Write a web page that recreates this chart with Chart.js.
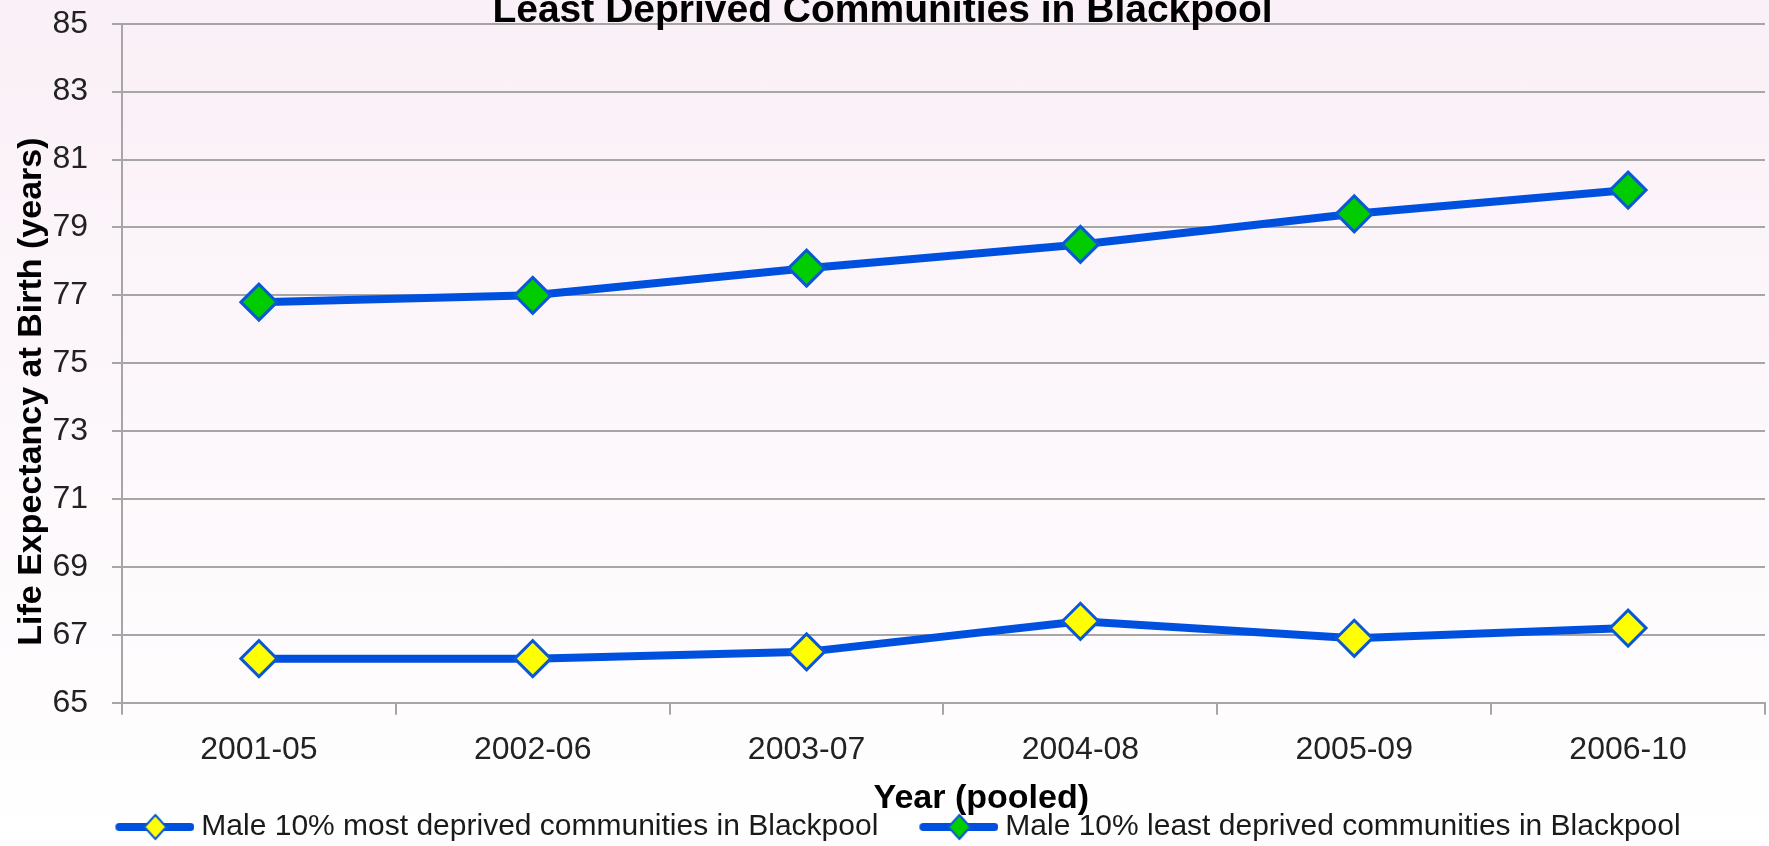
<!DOCTYPE html>
<html>
<head>
<meta charset="utf-8">
<script src="https://cdn.jsdelivr.net/npm/chart.js@4/dist/chart.umd.min.js"></script>
<style>
  html, body { margin: 0; padding: 0; width: 1769px; height: 846px; overflow: hidden; }
  body { background: linear-gradient(#faf0f7, #ffffff); position: relative; }
  #lifeChart { position: absolute; left: 0; top: -17px; }
</style>
</head>
<body>
<canvas id="lifeChart" width="1769" height="869"></canvas>
<script>
// data
const categories = ['2001-05', '2002-06', '2003-07', '2004-08', '2005-09', '2006-10'];
const mostDeprived = [66.3, 66.3, 66.5, 67.4, 66.9, 67.2];
const leastDeprived = [76.8, 77.0, 77.8, 78.5, 79.4, 80.1];
const seriesNames = ['Male 10% most deprived communities in Blackpool', 'Male 10% least deprived communities in Blackpool'];
const yMin = 65, yMax = 85, yStep = 2;

const FONT = "'Liberation Sans', Arial, sans-serif";
const lineBlue = '#0050e0';
const markerEdge = '#0a58d6';

// legend swatch: line with a diamond in the middle
function legendIcon(fill) {
    const c = document.createElement('canvas');
    c.width = 118; c.height = 30;
    const g = c.getContext('2d');
    g.strokeStyle = lineBlue;
    g.lineWidth = 8;
    g.lineCap = 'round';
    g.beginPath(); g.moveTo(43, 15); g.lineTo(114, 15); g.stroke();
    g.fillStyle = fill;
    g.strokeStyle = markerEdge;
    g.lineWidth = 2;
    g.beginPath();
    g.moveTo(79, 3); g.lineTo(90, 15); g.lineTo(79, 27); g.lineTo(68, 15); g.closePath();
    g.fill(); g.stroke();
    return c;
}
const icons = [legendIcon('#ffff00'), legendIcon('#00cc00')];

new Chart(document.getElementById('lifeChart'), {
    type: 'line',
    data: {
        labels: categories,
        datasets: [{
            label: seriesNames[0],
            data: mostDeprived,
            borderColor: lineBlue,
            borderWidth: 8,
            pointStyle: 'rectRot',
            pointRadius: 18,
            pointBackgroundColor: '#ffff00',
            pointBorderColor: markerEdge,
            pointBorderWidth: 3,
            tension: 0
        }, {
            label: seriesNames[1],
            data: leastDeprived,
            borderColor: lineBlue,
            borderWidth: 8,
            pointStyle: 'rectRot',
            pointRadius: 18,
            pointBackgroundColor: '#00cc00',
            pointBorderColor: markerEdge,
            pointBorderWidth: 3,
            tension: 0
        }]
    },
    options: {
        responsive: false,
        devicePixelRatio: 1,
        animation: false,
        layout: {autoPadding: false, padding: {left: 0, right: 4, top: 0, bottom: 0}},
        plugins: {
            title: {
                display: true,
                text: 'Least Deprived Communities in Blackpool',
                color: '#000',
                font: {family: FONT, size: 39, weight: 'bold', lineHeight: 1},
                padding: {top: 9, bottom: -7.3}
            },
            legend: {
                position: 'bottom',
                labels: {
                    usePointStyle: true,
                    pointStyleWidth: 102,
                    padding: 10,
                    color: '#1a1a1a',
                    font: {family: FONT, size: 30},
                    generateLabels: function(chart) {
                        const items = Chart.defaults.plugins.legend.labels.generateLabels(chart);
                        items.forEach((it, i) => { it.pointStyle = icons[i]; });
                        return items;
                    }
                }
            },
            tooltip: {enabled: false}
        },
        scales: {
            x: {
                offset: true,
                grid: {drawOnChartArea: false, offset: true, tickLength: 12, color: '#a6a6a6', lineWidth: 2},
                border: {color: '#a6a6a6', width: 2},
                ticks: {color: '#222', padding: 16, font: {family: FONT, size: 32}},
                title: {
                    display: true,
                    text: '        Year (pooled)',
                    color: '#000',
                    font: {family: FONT, size: 34, weight: 'bold', lineHeight: 1},
                    padding: {top: -3.2, bottom: -14}
                }
            },
            y: {
                min: yMin,
                max: yMax,
                grid: {color: '#a6a6a6', lineWidth: 2, tickLength: 10},
                border: {color: '#a6a6a6', width: 2},
                ticks: {stepSize: yStep, color: '#222', padding: 24, font: {family: FONT, size: 32, lineHeight: 0.5}},
                title: {
                    display: true,
                    text: 'Life Expectancy at Birth (years)      ',
                    color: '#000',
                    font: {family: FONT, size: 34, weight: 'bold', lineHeight: 1},
                    padding: {top: 15, bottom: -20.6}
                }
            }
        }
    }
});
</script>
</body>
</html>
